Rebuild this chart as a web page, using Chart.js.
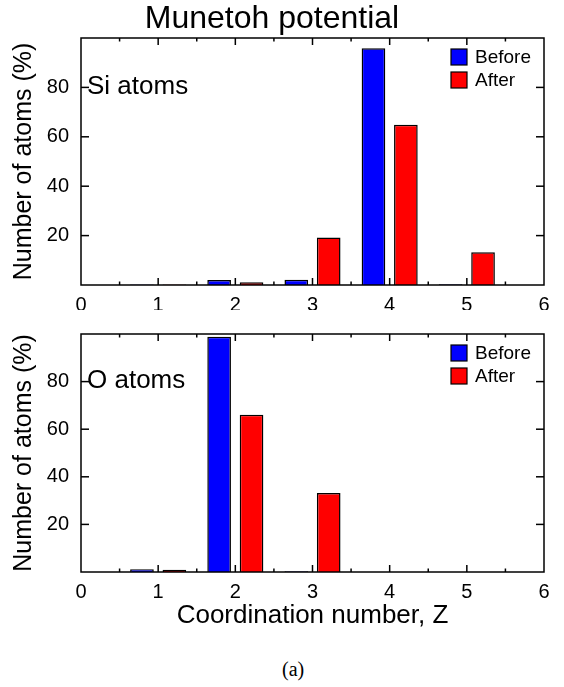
<!DOCTYPE html>
<html>
<head>
<meta charset="utf-8">
<script src="https://cdn.jsdelivr.net/npm/chart.js@4.4.1/dist/chart.umd.min.js"></script>
<style>
  body { margin: 0; background: #fff; }
  #page { position: relative; width: 564px; height: 687px; }
  canvas { position: absolute; left: 0; }
  #caption { position: absolute; left: 282px; top: 659px; font: 20px "Liberation Serif", serif; line-height: 20px; }
</style>
</head>
<body>
<div id="page">
  <canvas id="si" width="564" height="310" style="top:0"></canvas>
  <canvas id="o" width="564" height="330" style="top:310px"></canvas>
  <div id="caption">(a)</div>
</div>
<script>
// coordination number Z for each bar group
var coordination = [1, 2, 3, 4, 5];

// Si atoms, percent
var siBefore = [0.2, 2.0, 2.1, 95.8, 0.3];
var siAfter = [0.2, 1.1, 19.2, 64.9, 13.3];

// O atoms, percent
var oBefore = [1.2, 98.8, 0.3, 0, 0];
var oAfter = [0.9, 66.1, 33.2, 0, 0];

var xLabels = [0, 1, 2, 3, 4, 5, 6];
var yLabels = [20, 40, 60, 80];

var FONT = "'Liberation Sans', Arial, sans-serif";

function points(values) {
  return coordination.map((z, i) => ({x: z, y: values[i]}));
}

// gnuplot style: box round the plot, ticks pointing inward on all four sides,
// the atom label inside and a small legend in the top right corner
const framePlugin = {
  id: 'frame',
  afterDatasetsDraw(chart, args, opts) {
    const ctx = chart.ctx;
    const a = chart.chartArea;
    const x = chart.scales.x, y = chart.scales.y;
    ctx.save();
    ctx.strokeStyle = '#000';
    ctx.lineWidth = 1.5;
    function line(x1, y1, x2, y2) {
      ctx.beginPath(); ctx.moveTo(x1, y1); ctx.lineTo(x2, y2); ctx.stroke();
    }
    // major ticks on the integers, minor ones half way between
    x.ticks.forEach(t => {
      [[t.value, 7], [t.value + 0.5, 3.5]].forEach(([v, len]) => {
        if (v <= x.min || v >= x.max) return;
        const px = x.getPixelForValue(v);
        line(px, a.bottom, px, a.bottom - len);
        line(px, a.top, px, a.top + len);
      });
    });
    y.ticks.forEach(t => {
      if (t.value <= y.min || t.value >= y.max) return;
      const py = y.getPixelForValue(t.value);
      const len = t.value % 20 == 0 ? 8 : 4;
      line(a.left, py, a.left + len, py);
      line(a.right, py, a.right - len, py);
    });
    ctx.strokeRect(a.left, a.top, a.right - a.left, a.bottom - a.top);

    // label inside the plot
    ctx.fillStyle = '#000';
    ctx.font = '26px ' + FONT;
    ctx.textBaseline = 'middle';
    ctx.textAlign = 'left';
    ctx.fillText(opts.label, a.left + 6, y.getPixelForValue(80) - 1);

    // legend
    ctx.font = '19px ' + FONT;
    chart.data.datasets.forEach((ds, i) => {
      const bx = a.right - 93, by = a.top + 11 + i * 23;
      ctx.fillStyle = ds.backgroundColor;
      ctx.fillRect(bx, by, 16, 16);
      ctx.lineWidth = 1.2;
      ctx.strokeRect(bx, by, 16, 16);
      ctx.fillStyle = '#000';
      ctx.fillText(ds.label, bx + 24, by + 8.5);
    });
    ctx.restore();
  }
};

function makeChart(id, before, after, label, opts) {
  return new Chart(document.getElementById(id), {
    type: 'bar',
    data: {
      datasets: [
        {label: 'Before', data: points(before), backgroundColor: '#0000ff', borderColor: '#000', borderWidth: 1.5},
        {label: 'After', data: points(after), backgroundColor: '#ff0000', borderColor: '#000', borderWidth: 1.5}
      ]
    },
    options: {
      responsive: false,
      animation: false,
      categoryPercentage: 0.84,
      barPercentage: 0.73,
      layout: {padding: {top: opts.top, right: 20, left: 0, bottom: 0}},
      plugins: {
        legend: {display: false},
        tooltip: {enabled: false},
        title: {
          display: !!opts.title,
          text: opts.title,
          color: '#000',
          font: {family: FONT, size: 32, weight: 'normal', lineHeight: 1},
          padding: {top: 3, bottom: 3}
        },
        frame: {label: label}
      },
      scales: {
        x: {
          type: 'linear',
          min: 0, max: 6,
          offset: false,
          grid: {display: false, drawTicks: false},
          border: {display: false},
          ticks: {
            stepSize: 1,
            autoSkip: false,
            maxRotation: 0,
            padding: 8,
            color: '#000',
            font: {family: FONT, size: 20},
            callback: v => xLabels.includes(v) ? String(v) : ''
          },
          title: {
            display: !!opts.xTitle,
            text: opts.xTitle,
            color: '#000',
            font: {family: FONT, size: 26},
            padding: {top: 4, bottom: 9}
          },
          afterFit: s => { s.height = opts.xHeight; }
        },
        y: {
          min: 0, max: 100,
          grid: {display: false, drawTicks: false},
          border: {display: false},
          ticks: {
            stepSize: 10,
            padding: 12,
            color: '#000',
            font: {family: FONT, size: 20},
            callback: v => yLabels.includes(v) ? String(v) : ''
          },
          title: {
            display: true,
            text: 'Number of atoms (%)',
            color: '#000',
            font: {family: FONT, size: 25},
            padding: {top: 9, bottom: 9}
          },
          afterFit: s => { s.width = 81; }
        }
      }
    },
    plugins: [framePlugin]
  });
}

makeChart('si', siBefore, siAfter, 'Si atoms', {top: 0, title: 'Munetoh potential', xHeight: 25});
makeChart('o', oBefore, oAfter, 'O atoms', {top: 16, xTitle: 'Coordination number, Z', xHeight: 68});
</script>
</body>
</html>
